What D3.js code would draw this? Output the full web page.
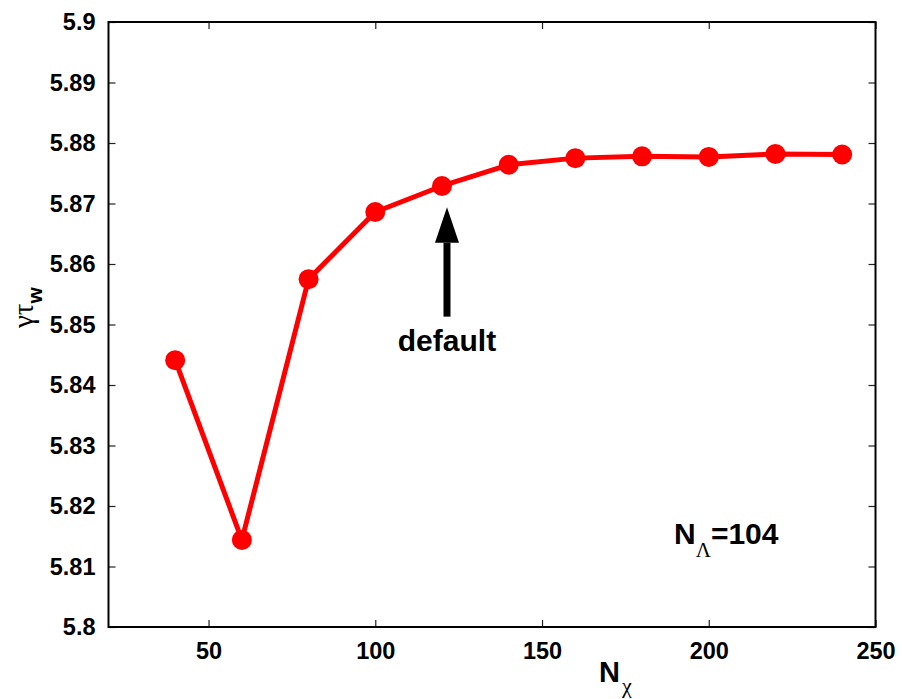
<!DOCTYPE html>
<html lang="en">
<head>
  <meta charset="UTF-8" />
  <title>gamma tau_w vs N_chi</title>
  <style>
    html, body { margin: 0; padding: 0; background: #fff; overflow: hidden; }
    svg { display: block; }
    .tick text { font-family: "Liberation Sans", Arial, sans-serif; font-weight: bold; font-size: 23.5px; fill: #000; }
    .lbl { font-family: "Liberation Sans", Arial, sans-serif; font-weight: bold; fill: #000; }
    .greek { font-family: "Liberation Serif", "DejaVu Serif", serif; font-weight: normal; }
  </style>
</head>
<body>
  <svg width="902" height="699"></svg>

  <script src="https://d3js.org/d3.v7.min.js"></script>
  <script>
    // data
    const nChi = [40, 60, 80, 100, 120, 140, 160, 180, 200, 220, 240];
    const gammaTau = [5.8441, 5.8144, 5.8575, 5.8686, 5.8729, 5.8764, 5.8775, 5.8778, 5.8777, 5.8782, 5.8781];
    const xTicks = [50, 100, 150, 200, 250];
    const yTicks = [5.8, 5.81, 5.82, 5.83, 5.84, 5.85, 5.86, 5.87, 5.88, 5.89, 5.9];
    const xDomain = [20, 250];
    const yDomain = [5.8, 5.9];
    // arrow pointing at the default value
    const arrowX = 121.5;
    const arrowTip = 5.8694;
    const arrowHeadBase = 5.8635;
    const arrowTail = 5.8513;

    const svg = d3.select("svg");
    const mLeft = 108.5, mRight = 875.5, mTop = 22, mBottom = 627;

    const x = d3.scaleLinear().domain(xDomain).range([mLeft, mRight]);
    const y = d3.scaleLinear().domain(yDomain).range([mBottom, mTop]);

    const tickFmt = d => String(+d.toFixed(2));

    // axes, ticks inward, mirrored top/right
    svg.append("g")
      .attr("transform", `translate(0,${mBottom})`)
      .call(d3.axisBottom(x).tickValues(xTicks).tickSizeInner(-7).tickSizeOuter(0).tickPadding(15).tickFormat(tickFmt));
    svg.append("g")
      .attr("transform", `translate(0,${mTop})`)
      .call(d3.axisTop(x).tickValues(xTicks).tickSizeInner(-7).tickSizeOuter(0).tickFormat(""));
    svg.append("g")
      .attr("transform", `translate(${mLeft},0)`)
      .call(d3.axisLeft(y).tickValues(yTicks).tickSizeInner(-7).tickSizeOuter(0).tickPadding(13).tickFormat(tickFmt));
    svg.append("g")
      .attr("transform", `translate(${mRight},0)`)
      .call(d3.axisRight(y).tickValues(yTicks).tickSizeInner(-7).tickSizeOuter(0).tickFormat(""));

    svg.selectAll(".domain").remove();
    svg.selectAll(".tick line").attr("stroke", "#222").attr("stroke-width", 1.2);
    svg.selectAll("g").attr("font-size", null).attr("font-family", null);

    svg.append("rect")
      .attr("x", mLeft).attr("y", mTop)
      .attr("width", mRight - mLeft).attr("height", mBottom - mTop)
      .attr("fill", "none").attr("stroke", "#000").attr("stroke-width", 2);

    // series
    const pts = nChi.map((n, i) => [n, gammaTau[i]]);
    svg.append("path")
      .datum(pts)
      .attr("fill", "none")
      .attr("stroke", "#ff0000")
      .attr("stroke-width", 5)
      .attr("stroke-linejoin", "round")
      .attr("d", d3.line().x(d => x(d[0])).y(d => y(d[1])));

    svg.selectAll("circle.pt")
      .data(pts)
      .join("circle")
      .attr("class", "pt")
      .attr("cx", d => x(d[0]))
      .attr("cy", d => y(d[1]))
      .attr("r", 10)
      .attr("fill", "#ff0000");

    // arrow
    const ax = x(arrowX);
    svg.append("line")
      .attr("x1", ax).attr("x2", ax)
      .attr("y1", y(arrowTail)).attr("y2", y(arrowHeadBase))
      .attr("stroke", "#000").attr("stroke-width", 7);
    svg.append("path")
      .attr("d", `M${ax},${y(arrowTip)} L${ax - 12},${y(arrowHeadBase)} L${ax + 12},${y(arrowHeadBase)} Z`)
      .attr("fill", "#000");

    svg.append("text")
      .attr("class", "lbl")
      .attr("x", ax).attr("y", 351)
      .attr("text-anchor", "middle")
      .attr("font-size", 30)
      .text("default");

    // N_Lambda = 104
    const nl = svg.append("text").attr("class", "lbl").attr("x", 674).attr("y", 544).attr("font-size", 30);
    nl.append("tspan").text("N");
    nl.append("tspan").attr("class", "greek").attr("font-size", 21).attr("dy", 13).text("Λ");
    nl.append("tspan").attr("dy", -13).text("=104");

    // x label
    const xl = svg.append("text").attr("class", "lbl").attr("x", 599).attr("y", 682).attr("font-size", 29);
    xl.append("tspan").text("N");
    xl.append("tspan").attr("class", "greek").attr("font-size", 22).attr("dy", 11).attr("dx", 2).text("χ");

    // y label
    const yl = svg.append("text")
      .attr("transform", "translate(33,328) rotate(-90)")
      .attr("font-size", 29);
    yl.append("tspan").attr("class", "greek").text("γτ");
    yl.append("tspan").attr("class", "lbl").attr("font-size", 21).attr("dy", 9).text("w");
  </script>
</body>
</html>
